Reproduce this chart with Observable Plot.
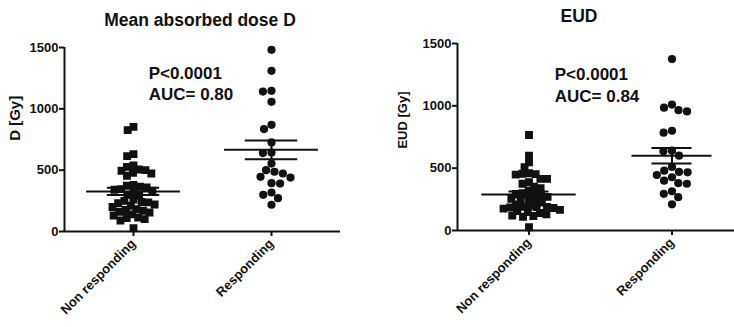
<!DOCTYPE html>
<html><head><meta charset="utf-8">
<script src="https://cdn.jsdelivr.net/npm/d3@7"></script>
<script src="https://cdn.jsdelivr.net/npm/@observablehq/plot@0.6"></script>
<style>
body{margin:0;background:#fff;font-family:"Liberation Sans",Arial,sans-serif;}
#wrap{display:flex;width:734px;height:327px;overflow:hidden;}
.panel{position:relative;width:367px;height:327px;flex:none;overflow:hidden;}
.title{position:absolute;right:0;text-align:center;font-weight:bold;font-size:17.5px;color:#111;white-space:nowrap;line-height:20px;}
.panel svg{position:absolute;top:32px;left:0;}
</style></head><body>
<div id="wrap">
  <div class="panel" id="p1"><div class="title" id="t1" style="left:33px;top:10px"></div></div>
  <div class="panel" id="p2"><div class="title" id="t2" style="left:57px;top:6px"></div></div>
</div>
<script>
const groups = ["Non responding", "Responding"];
const titles = ["Mean absorbed dose D", "EUD"];
const yLabels = ["D [Gy]", "EUD [Gy]"];
const yTicks = [0, 500, 1000, 1500];
const statsLines = [["P<0.0001", "AUC= 0.80"], ["P<0.0001", "AUC= 0.84"]];

const doseNonResponding = [853, 826, 631, 614, 538, 527, 505, 500, 495, 478, 473, 454, 380, 373, 365, 360, 345, 340, 332, 320, 299, 291, 260, 250, 240, 237, 230, 220, 210, 200, 182, 175, 169, 160, 155, 140, 130, 114, 110, 101, 90, 28];
const doseResponding = [1481, 1310, 1147, 1141, 1057, 870, 835, 726, 644, 639, 554, 500, 487, 473, 446, 440, 394, 391, 318, 299, 272, 218];
const eudNonResponding = [766, 601, 547, 507, 459, 455, 452, 448, 414, 414, 387, 375, 352, 340, 320, 300, 294, 294, 280, 270, 255, 254, 248, 240, 225, 210, 200, 190, 190, 187, 185, 180, 175, 165, 155, 147, 140, 130, 120, 116, 110, 26];
const eudResponding = [1375, 1010, 985, 965, 955, 800, 785, 640, 635, 600, 510, 480, 470, 467, 445, 427, 400, 380, 375, 315, 294, 267, 210];

const ink = "#111";
const font = "'Liberation Sans', Arial, sans-serif";

function panel(c) {
  const nr = c.nonResp.map(v => ({g: groups[0], v}));
  const rs = c.resp.map(v => ({g: groups[1], v}));
  const summ = groups.map((g, i) => {
    const a = i ? c.resp : c.nonResp;
    const m = d3.mean(a), s = d3.deviation(a) / Math.sqrt(a.length);
    return {g, m, lo: m - s, hi: m + s, half: i ? c.meanHalfR : c.meanHalfN};
  });
  return Plot.plot({
    width: 367, height: 295,
    marginLeft: c.ml, marginRight: c.mr, marginTop: c.mt, marginBottom: c.mb,
    style: {fontFamily: font, color: ink, background: "transparent", overflow: "visible"},
    fx: {domain: groups, range: c.fxRange, padding: 0, label: null},
    x: {domain: [-1, 1], axis: null},
    y: {domain: [0, 1500], axis: null},
    marks: [
      Plot.ruleY([0], {stroke: ink, strokeWidth: 2}),
      Plot.ruleX([groups[0]], {fx: d => d, x: -1, y1: 0, y2: 1500, stroke: ink, strokeWidth: 2}),
      Plot.axisY({ticks: yTicks, tickFormat: d => String(d), tickSize: 5, tickPadding: 1, fontSize: 13, fontWeight: "bold", label: null, strokeWidth: 2, stroke: ink}),
      Plot.axisFx({anchor: "bottom", tickRotate: -45, tickSize: 5, tickPadding: 5, fontSize: 13, fontWeight: "bold", label: null, strokeWidth: 2, stroke: ink}),
      Plot.text([c.yLabel], {fx: () => groups[0], frameAnchor: "left", y: c.labelY, dx: c.labelDx, rotate: -90, fontSize: c.labelSize, fontWeight: "bold", fill: ink}),
      Plot.dot(nr, Plot.dodgeX({anchor: "middle", padding: 0.3}, {fx: "g", y: "v", symbol: "square", r: 3.2, fill: ink, stroke: ink, strokeWidth: 2.2})),
      Plot.dot(rs, Plot.dodgeX({anchor: "middle", padding: 0.4}, {fx: "g", y: "v", symbol: "circle", r: 4.1, fill: ink, stroke: null})),
      Plot.ruleY(summ, {fx: "g", y: "m", x1: d => -d.half, x2: d => d.half, stroke: ink, strokeWidth: 2}),
      Plot.ruleY(summ, {fx: "g", y: "lo", x1: -c.semHalf, x2: c.semHalf, stroke: ink, strokeWidth: 2}),
      Plot.ruleY(summ, {fx: "g", y: "hi", x1: -c.semHalf, x2: c.semHalf, stroke: ink, strokeWidth: 2}),
      Plot.ruleX(summ, {fx: "g", x: 0, y1: "lo", y2: "hi", stroke: ink, strokeWidth: 2}),
      Plot.text([c.stats.join("\n")], {fx: () => groups[0], x: c.noteX, y: c.noteY, textAnchor: "start", lineAnchor: "middle", lineHeight: c.noteLH, fontSize: 17, fontWeight: "bold", fill: ink})
    ]
  });
}

document.getElementById("t1").textContent = titles[0];
document.getElementById("t2").textContent = titles[1];

document.getElementById("p1").append(panel({
  nonResp: doseNonResponding, resp: doseResponding, yLabel: yLabels[0], stats: statsLines[0],
  ml: 64, mr: 27, mt: 15, mb: 96, fxRange: [64, 340],
  meanHalfN: 0.68, meanHalfR: 0.68, semHalf: 0.38, labelDx: -49, labelY: 739, labelSize: 15,
  noteX: 0.22, noteY: 1216, noteLH: 1.24
}));
document.getElementById("p2").append(panel({
  nonResp: eudNonResponding, resp: eudResponding, yLabel: yLabels[1], stats: statsLines[1],
  ml: 90, mr: -9, mt: 11, mb: 97, fxRange: [90, 376],
  meanHalfN: 0.66, meanHalfR: 0.56, semHalf: 0.28, labelDx: -55, labelY: 657, labelSize: 13,
  noteX: 0.36, noteY: 1178, noteLH: 1.31
}));
</script>
</body></html>
